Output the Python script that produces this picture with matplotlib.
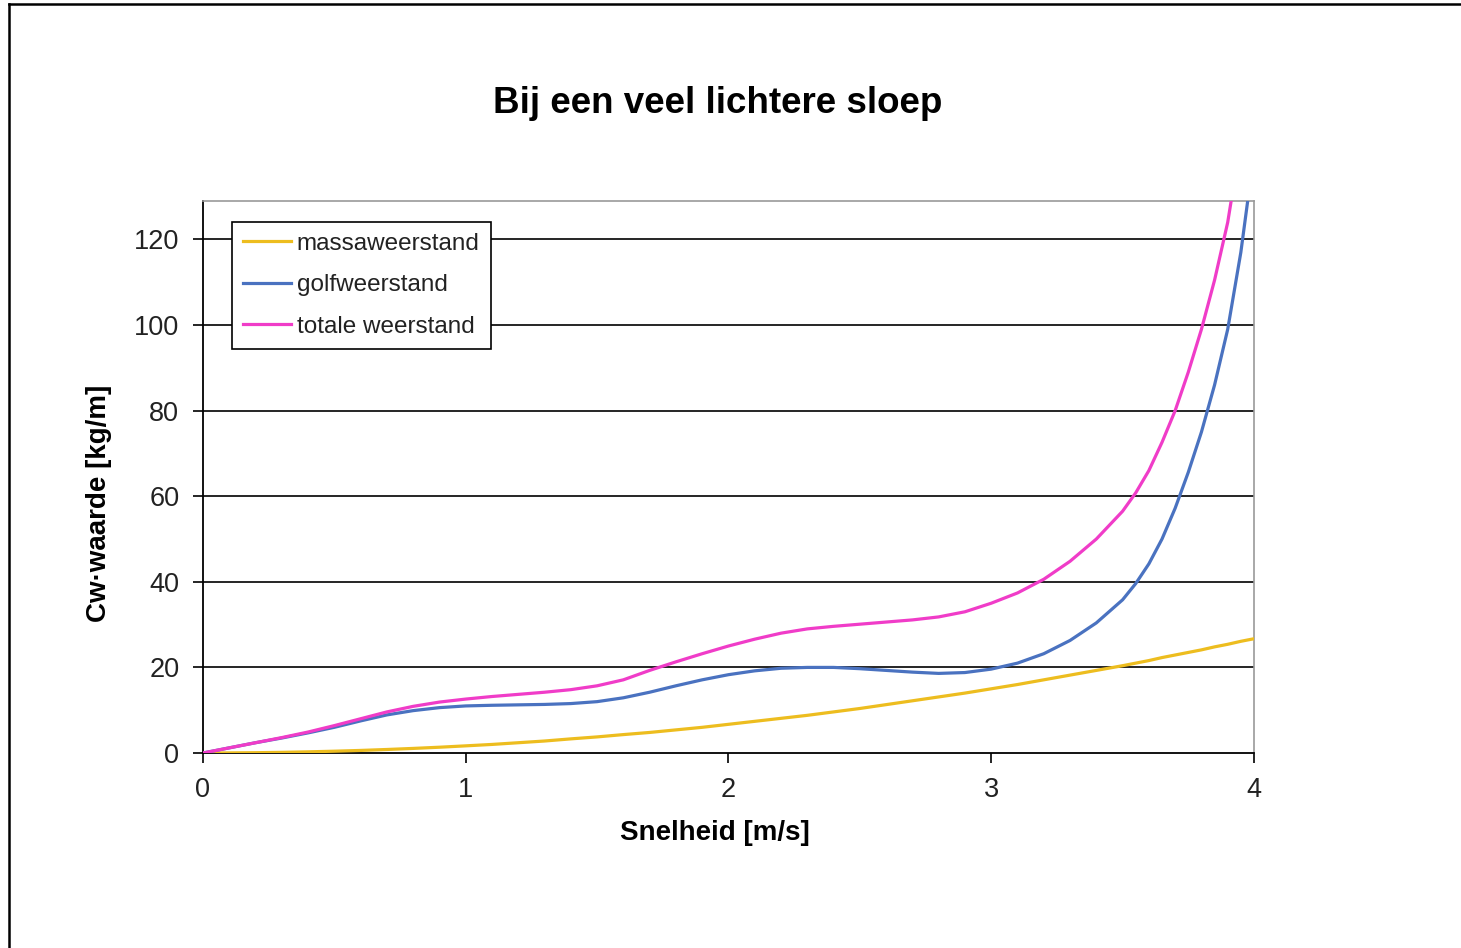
import matplotlib
matplotlib.use("Agg")
import matplotlib.pyplot as plt
from matplotlib.lines import Line2D

plt.rcParams['font.family'] = ['Liberation Sans', 'DejaVu Sans']

# Snelheid [m/s]
snelheid = [0.0, 0.1, 0.2, 0.3, 0.4, 0.5, 0.6, 0.7, 0.8, 0.9,
            1.0, 1.1, 1.2, 1.3, 1.4, 1.5, 1.6, 1.7, 1.8, 1.9,
            2.0, 2.1, 2.2, 2.3, 2.4, 2.5, 2.6, 2.7, 2.8, 2.9,
            3.0, 3.1, 3.2, 3.3, 3.4, 3.5, 3.55, 3.6, 3.65, 3.7,
            3.75, 3.8, 3.85, 3.9, 3.95, 4.0]

# Cw-waarden [kg/m]
massaweerstand = [0.0, 0.02, 0.07, 0.15, 0.27, 0.42, 0.6, 0.82, 1.07, 1.35,
                  1.67, 2.0, 2.4, 2.8, 3.3, 3.76, 4.3, 4.8, 5.4, 6.0,
                  6.7, 7.4, 8.1, 8.8, 9.6, 10.4, 11.3, 12.2, 13.1, 14.0,
                  15.0, 16.0, 17.1, 18.2, 19.3, 20.4, 21.0, 21.6, 22.3, 22.9,
                  23.5, 24.1, 24.8, 25.4, 26.1, 26.7]

golfweerstand = [0.0, 1.2, 2.4, 3.5, 4.7, 6.0, 7.5, 8.9, 9.9, 10.6,
                 11.0, 11.15, 11.25, 11.35, 11.55, 12.0, 12.9, 14.2, 15.7, 17.1,
                 18.3, 19.2, 19.8, 20.0, 20.0, 19.7, 19.3, 18.9, 18.6, 18.8,
                 19.6, 21.0, 23.2, 26.3, 30.4, 35.8, 39.6, 44.2, 50.0, 57.2,
                 65.6, 75.0, 86.0, 99.0, 117.0, 140.0]

totale_weerstand = [0.0, 1.2, 2.4, 3.6, 4.9, 6.4, 8.0, 9.6, 10.9, 11.9,
                    12.6, 13.2, 13.7, 14.2, 14.8, 15.7, 17.1, 19.3, 21.3, 23.2,
                    25.0, 26.6, 28.0, 29.0, 29.6, 30.1, 30.6, 31.1, 31.8, 33.0,
                    35.0, 37.4, 40.6, 44.8, 50.0, 56.5, 60.8, 66.0, 72.6, 80.0,
                    89.0, 99.0, 110.5, 124.0, 143.0, 165.0]

x_ticks = [0, 1, 2, 3, 4]
y_ticks = [0, 20, 40, 60, 80, 100, 120]

fig = plt.figure(figsize=(14.61, 9.48), dpi=100)
ax = fig.add_axes([0.1389, 0.2057, 0.7194, 0.5823])

ax.set_xlim(0, 4)
ax.set_ylim(0, 129)

for y in y_ticks[1:]:
    ax.axhline(y, color='black', lw=1.2, zorder=1)

ax.plot(snelheid, massaweerstand, color='#EDBD1F', lw=2.3, label='massaweerstand', zorder=3)
ax.plot(snelheid, golfweerstand, color='#4A72C0', lw=2.3, label='golfweerstand', zorder=3)
ax.plot(snelheid, totale_weerstand, color='#F03CC8', lw=2.3, label='totale weerstand', zorder=3)

ax.set_xticks(x_ticks)
ax.set_yticks(y_ticks)
ax.tick_params(axis='both', direction='out', length=7, width=1.2, color='black',
               labelsize=19.5, labelcolor='#222222')
ax.tick_params(axis='y', pad=10)
ax.tick_params(axis='x', pad=10)

ax.spines['left'].set_color('black')
ax.spines['bottom'].set_color('black')
ax.spines['left'].set_linewidth(1.3)
ax.spines['bottom'].set_linewidth(1.3)
ax.spines['top'].set_color('#999999')
ax.spines['right'].set_color('#999999')
ax.spines['top'].set_linewidth(1.2)
ax.spines['right'].set_linewidth(1.2)

ax.set_xlabel('Snelheid [m/s]', fontsize=20, fontweight='bold')
ax.xaxis.set_label_coords((715 - 203) / 1051, -(833 - 753) / 552)
ax.xaxis.label.set_va('center')
ax.set_ylabel('Cw·waarde [kg/m]', fontsize=20, fontweight='bold')
ax.yaxis.set_label_coords(-(203 - 99) / 1051, (753 - 503) / 552)
ax.yaxis.label.set_va('center')

fig.text(0.491, 0.891, 'Bij een veel lichtere sloep', fontsize=26.5, fontweight='bold',
         ha='center', va='center')

leg = ax.legend(loc='upper left', bbox_to_anchor=(0.0276, 0.962), borderaxespad=0,
                fontsize=17.5, frameon=True, fancybox=False, shadow=False,
                handlelength=2.0, handletextpad=0.22, labelspacing=0.8,
                borderpad=0.45)
leg.get_frame().set_edgecolor('black')
leg.get_frame().set_linewidth(1.2)
leg.get_frame().set_facecolor('white')
leg.get_frame().set_alpha(1)
for t in leg.get_texts():
    t.set_color('#222222')

# outer chart frame (left and top edges)
fig.add_artist(Line2D([9 / 1461, 9 / 1461], [0, 1 - 4 / 948], color='black', lw=1.8,
                      transform=fig.transFigure))
fig.add_artist(Line2D([9 / 1461, 1], [1 - 4 / 948, 1 - 4 / 948], color='black', lw=1.8,
                      transform=fig.transFigure))

fig.savefig('out.png', dpi=100, facecolor='white')
